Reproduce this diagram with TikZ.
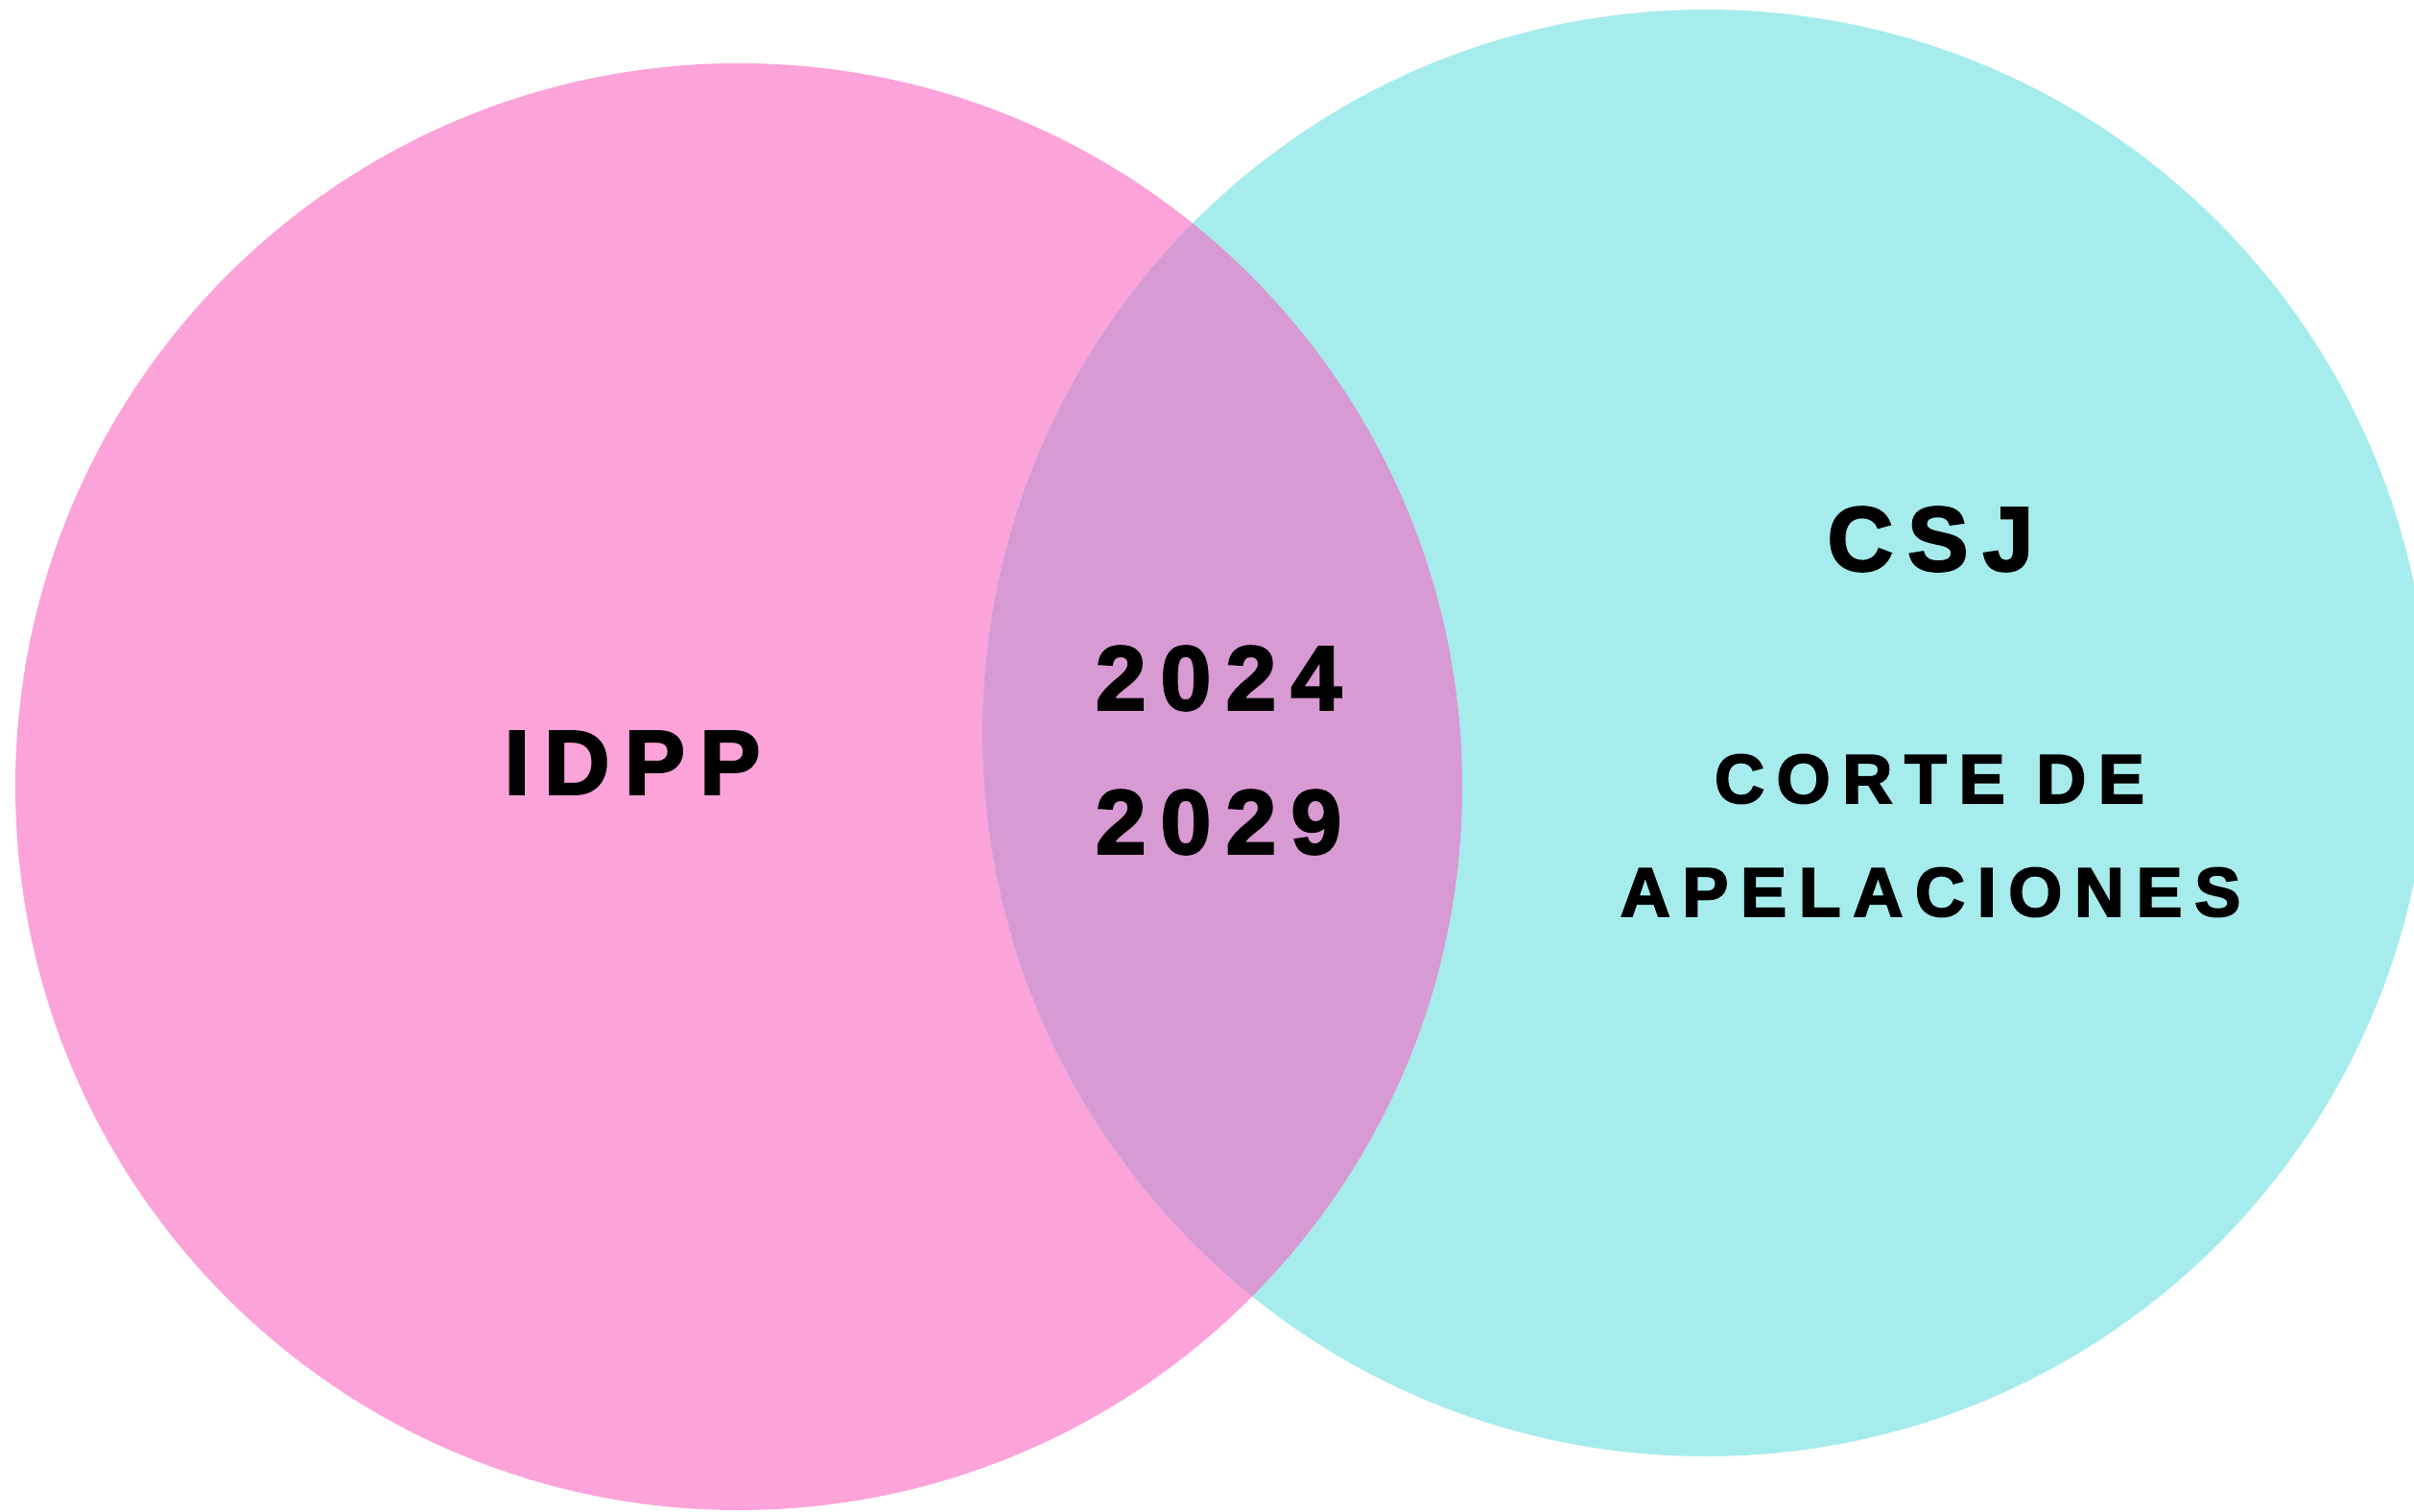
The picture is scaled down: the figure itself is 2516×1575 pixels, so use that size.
\documentclass[tikz,border=0pt]{standalone}
\usepackage{fontspec}
\setmainfont{Liberation Sans}
\newfontfamily\vennfont[FakeBold=2.6]{Liberation Sans}
\usepackage{tikz}
\usetikzlibrary{positioning}

\definecolor{idppink}{HTML}{FCA3D9}
\definecolor{csjcyan}{HTML}{A7ECEC}
\definecolor{bothmauve}{HTML}{D89AD2}

\begin{document}
\begin{tikzpicture}[
x=0.1mm, y=-0.1mm,
bigtext/.style={font=\vennfont\bfseries\addfontfeature{LetterSpace=16}\fontsize{27}{30}\selectfont, inner sep=0pt},
smalltext/.style={font=\vennfont\bfseries\addfontfeature{LetterSpace=17.5}\fontsize{20.5}{24}\selectfont, inner sep=0pt},
]
\useasboundingbox (0,0) rectangle (2516,1575);

% Circle centres
\coordinate (idppcentre) at (770,820);
\coordinate (csjcentre)  at (1778,764);

% The two sets and their overlap
\fill[idppink] (idppcentre) circle[radius=7.54cm];
\fill[csjcyan] (csjcentre) circle[radius=7.54cm];
\begin{scope}
\clip (idppcentre) circle[radius=7.54cm];
\fill[bothmauve] (csjcentre) circle[radius=7.54cm];
\end{scope}

% Left set
\node[bigtext]   (idpp)   at (659,795)  {IDPP};

% Overlap
\node[bigtext]   (yearstart) at (1270,707) {2024};
\node[bigtext]   (yearend)   at (1270,857) {2029};

% Right set
\node[bigtext]   (csj)    at (2012,562) {CSJ};
\node[smalltext] (corte)  at (2011,812) {CORTE DE};
\node[smalltext] (apel)   at (2012,930) {APELACIONES};
\end{tikzpicture}
\end{document}
